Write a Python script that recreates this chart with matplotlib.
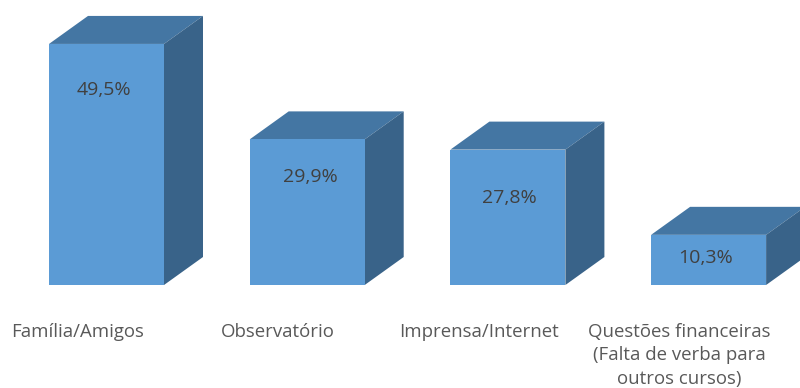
# coding: utf-8
import matplotlib
matplotlib.use('Agg')
import matplotlib.pyplot as plt
from matplotlib.patches import Polygon

categories = ['Família/Amigos', 'Observatório', 'Imprensa/Internet',
              'Questões financeiras\n(Falta de verba para\noutros cursos)']
values = [49.5, 29.9, 27.8, 10.3]
labels = ['49,5%', '29,9%', '27,8%', '10,3%']

plt.rcParams['font.family'] = ['Open Sans', 'DejaVu Sans']

fig = plt.figure(figsize=(8, 3.88), dpi=100)
ax = fig.add_axes([0, 0, 1, 1])

# scale: px per category and px per percent
px_x = 200.7
px_y = 4.87
ax.set_xlim(-106.5 / px_x, (800 - 106.5) / px_x)
ax.set_ylim(-(388 - 285) / px_y, 285 / px_y)
ax.axis('off')

bar_w = 115 / px_x
dx = 39 / px_x
dy = 28 / px_y
front = '#5b9bd5'
top = '#4476a3'
side = '#396389'

for i, v in enumerate(values):
    l = i - bar_w / 2
    r = i + bar_w / 2
    ax.add_patch(Polygon([(l, v), (r, v), (r + dx, v + dy), (l + dx, v + dy)],
                         closed=True, fc=top, ec='none'))
    ax.add_patch(Polygon([(r, 0), (r + dx, dy), (r + dx, v + dy), (r, v)],
                         closed=True, fc=side, ec='none'))
ax.bar(range(len(values)), values, width=bar_w, color=front, edgecolor='none')

label_x = [-0.015, 0.015, 0.008, -0.015]
label_y = [40.1, 22.2, 17.8, 5.6]
for i, v in enumerate(values):
    ax.text(i + label_x[i], label_y[i], labels[i], ha='center', va='center',
            fontsize=14, color='#404040')

for i, c in enumerate(categories):
    ax.text(i - 0.146, -(323 - 285) / px_y, c,
            ha='center', va='top', fontsize=13.4, color='#595959',
            linespacing=1.38)

fig.savefig('out.png', dpi=100)
